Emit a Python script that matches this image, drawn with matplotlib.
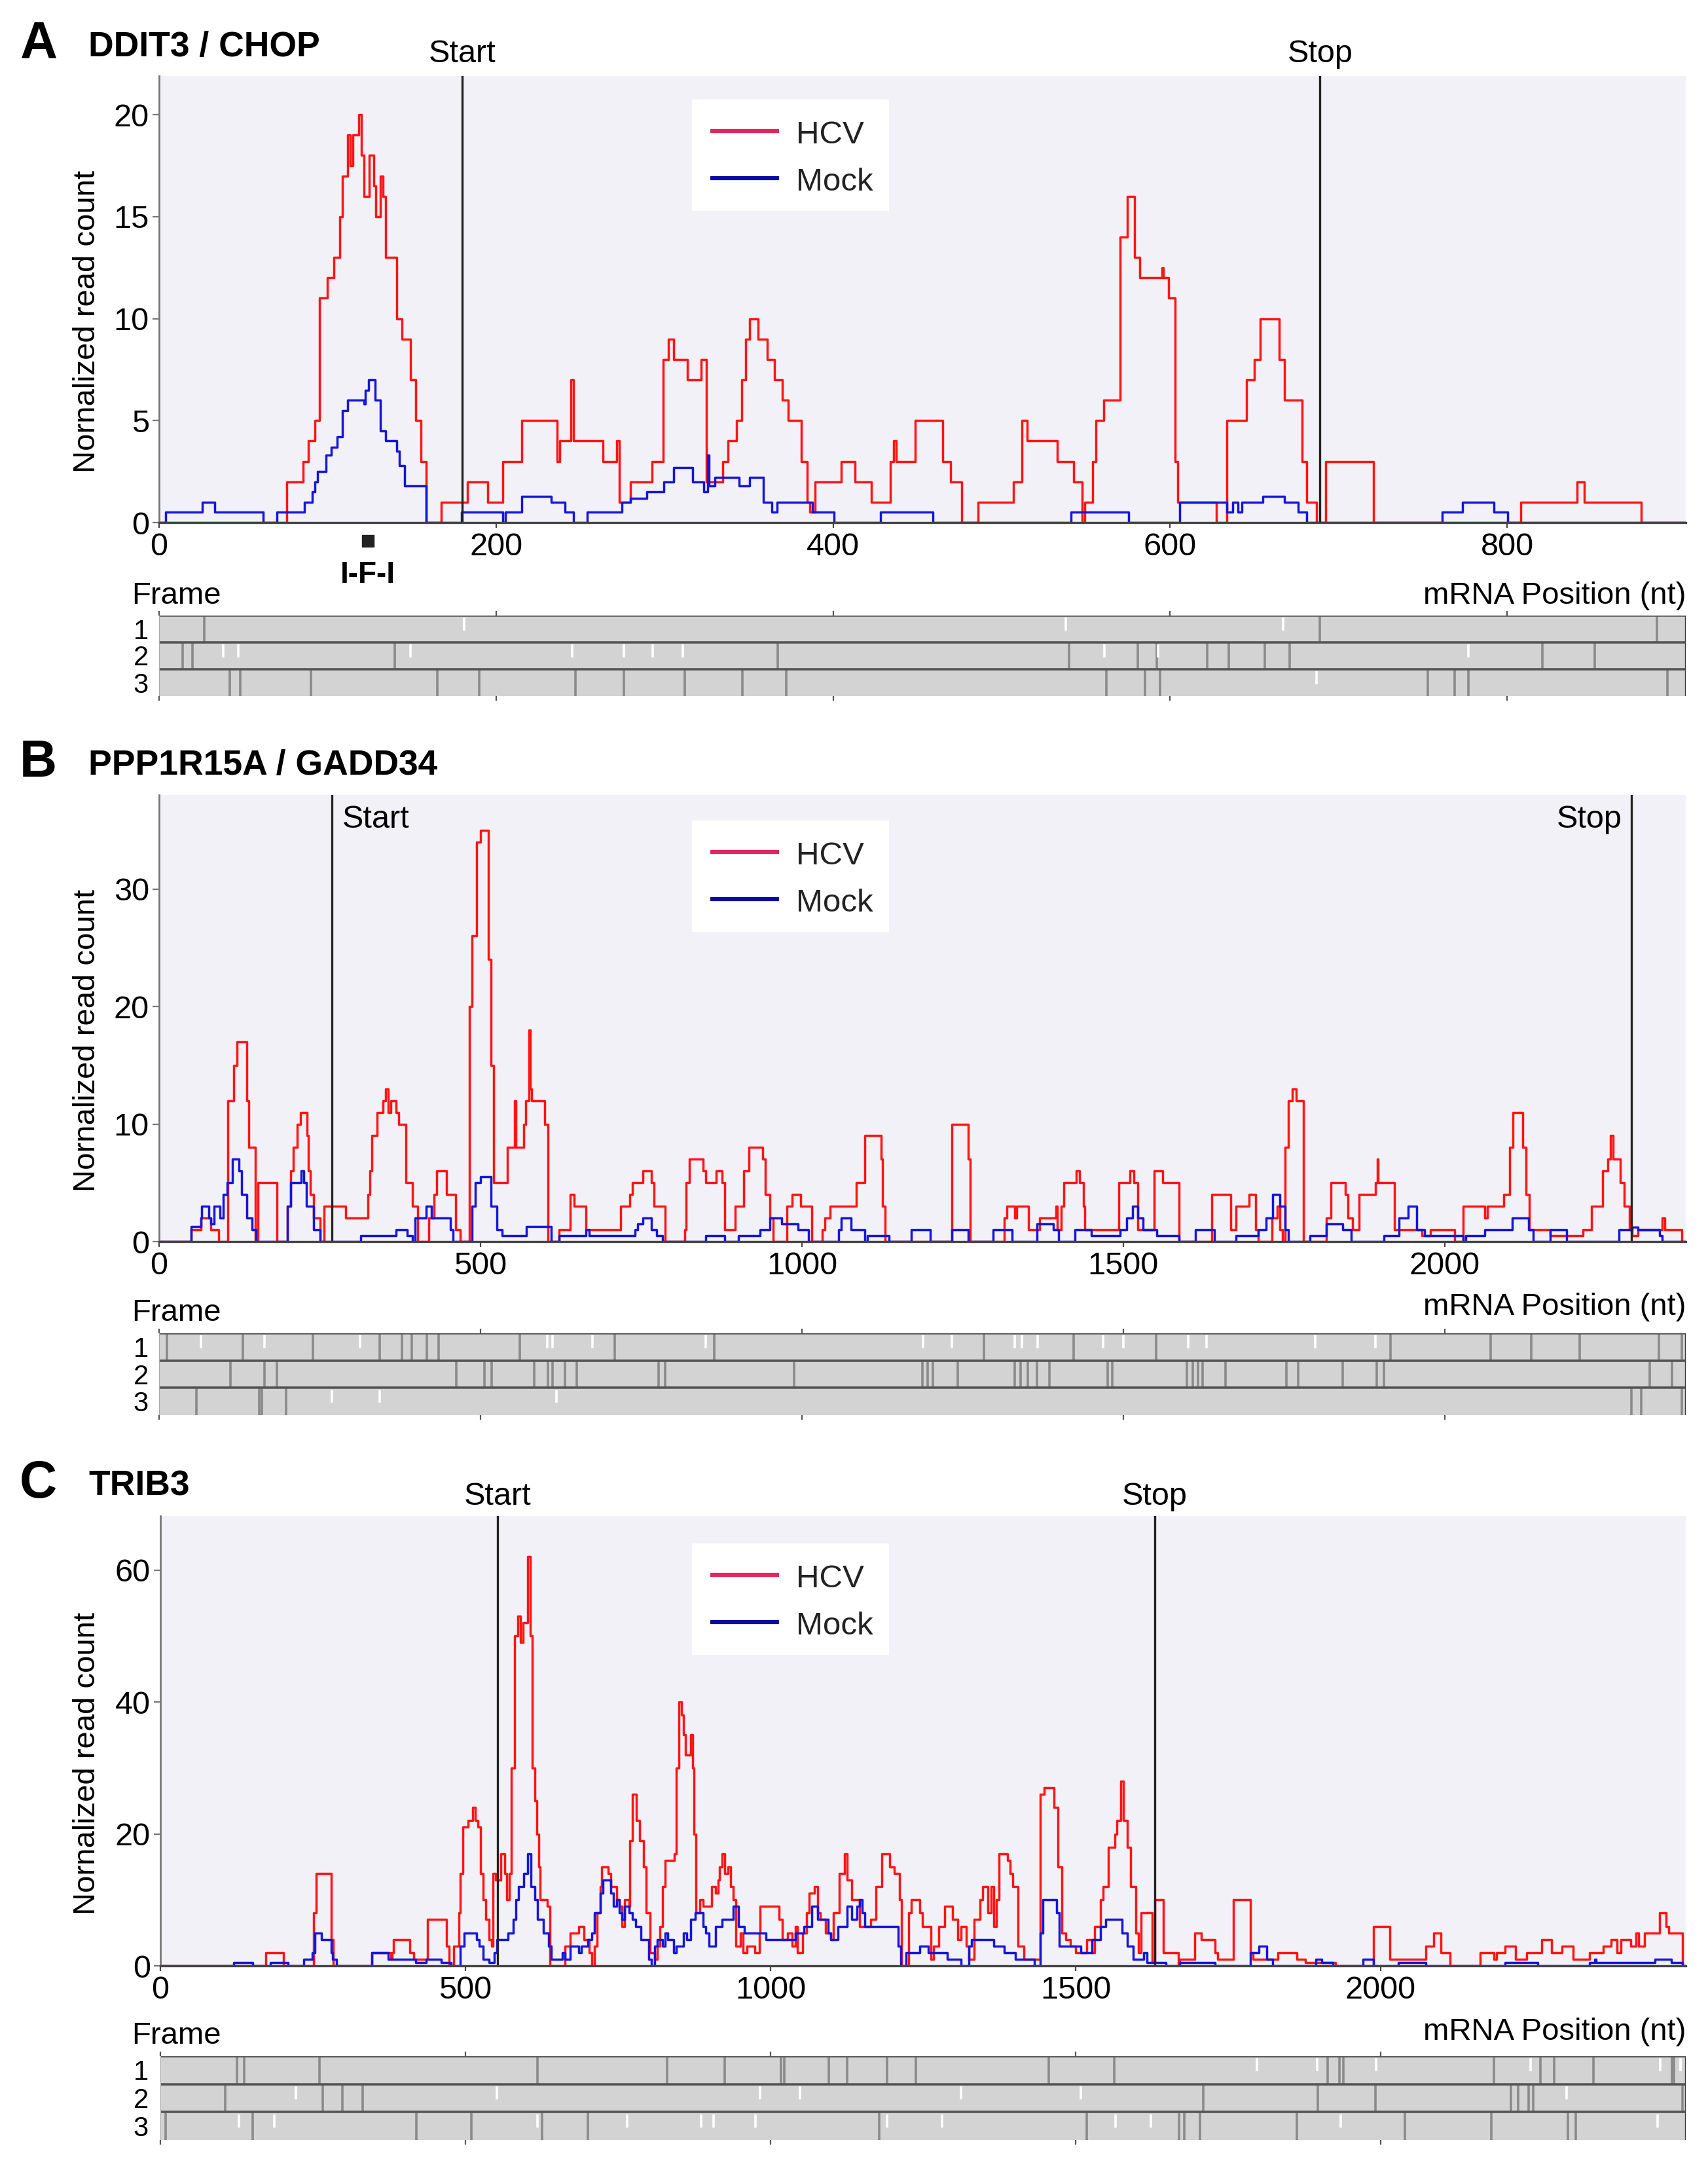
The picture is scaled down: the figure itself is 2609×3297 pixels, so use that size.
import matplotlib
matplotlib.use('Agg')
import matplotlib.pyplot as plt
import matplotlib.transforms as mtransforms
from matplotlib.patches import Rectangle
from matplotlib.lines import Line2D

plt.rcParams['font.family'] = ['Liberation Sans', 'DejaVu Sans']

# ---------------- DATA ----------------
# Panel A: DDIT3 / CHOP
A_HCV_X = [0, 75.8, 85.5, 88.7, 92.6, 95.1, 100, 103.9, 107.1, 108.7, 111.9, 113.5, 115.1, 118.4, 120, 121.6,
           124.8, 127.4, 128.7, 131.3, 132.9, 134.5, 140.9, 144.2, 149, 152.2, 155.5, 158.7, 167.4, 182.9, 195.1,
           203.9, 215.1, 236.1, 237.7, 244.2, 245.8, 263.5, 271.6, 273.2, 279.7, 292.6, 299, 302.3, 305.5, 313.5,
           321.6, 324.8, 334.5, 337.7, 342.6, 345.8, 348, 350.6, 355.5, 361, 365.2, 370, 373.2, 381.3, 384.5, 386.1,
           389.3, 405, 413, 422.7, 434, 436, 437.3, 448.6, 464.9, 469.8, 476.3, 486, 507.1, 512, 515.2, 533.1,
           542.8, 547.7, 549.3, 554.2, 556, 560.7, 570.5, 574.7, 578.9, 581.8, 595, 596, 599, 602.9, 604.6, 627.3,
           633.8, 645.2, 650, 653.3, 664.6, 667.9, 678.3, 680.9, 686.7, 692.3, 720.5, 808.2, 841.7, 845.9, 879.7]
A_HCV_Y = [0, 2, 3, 4, 5, 11, 12, 13, 15, 17, 19, 17.5, 19, 20, 18, 16,
           18, 16.5, 15, 17, 16, 13, 10, 9, 7, 5, 3, 0, 1, 2, 1,
           3, 5, 3, 4, 7, 4, 3, 4, 1, 2, 3, 8, 9, 8, 7,
           8, 2, 3, 4, 5, 7, 9, 10, 9, 8, 7, 6, 5, 3, 1, 0.5,
           2, 3, 2, 1, 3, 4, 3, 5, 3, 2, 0, 1, 2, 5, 4, 3,
           2, 0, 1, 3, 5, 6, 14, 16, 13, 12, 12.5, 12, 11, 3, 1, 0,
           5, 7, 8, 10, 8, 6, 3, 1, 0, 3, 0, 1, 2, 1, 0]
A_MOCK_X = [0, 3.8, 25.5, 32.9, 61.9, 70, 86.1, 91, 92.6, 94.2, 99, 102.2, 105.5, 108.7, 111.9, 121.6, 122.2,
            124.2, 128.1, 131.3, 134.5, 140.9, 142.6, 145.8, 158.7, 179.6, 203.9, 205.5, 215.1, 232.9, 240.9,
            245.8, 253.9, 274.8, 279.7, 289.4, 299.7, 305.5, 316.8, 323.2, 325.5, 326.5, 329.7, 344.2, 350.6,
            358.7, 363.5, 366.8, 387.7, 400.6, 428.2, 459.4, 541.2, 575.3, 605.5, 633.8, 637, 640.3, 642.6,
            654.9, 667.9, 676, 680.9, 761.4, 773.5, 792, 800.4]
A_MOCK_Y = [0, 0.5, 1, 0.5, 0, 0.5, 1, 1.5, 2, 2.5, 3.3, 3.7, 4.2, 5.5, 6, 5.8, 6.5,
            7, 6, 4.5, 4, 3.5, 2.8, 1.8, 0, 0.5, 0, 0.5, 1.3, 1, 0.5,
            0, 0.5, 1, 1.2, 1.5, 2, 2.7, 2, 1.5, 3.3, 1.8, 2.2, 1.8, 2.2,
            1, 0.5, 1, 0.5, 0, 0.5, 0, 0.5, 0, 1, 0.5, 1, 0.5, 1,
            1.3, 1, 0.5, 0, 0.5, 1, 0.5, 0]
A_START, A_STOP = 180, 689
A_XMAX, A_YMAX = 906, 21.9
A_XTICKS = [0, 200, 400, 600, 800]
A_YTICKS = [0, 5, 10, 15, 20]
A_F1_STOP = [27, 689, 889]
A_F1_ATG = [181, 538, 667]
A_F2_STOP = [14, 20, 140, 367, 540, 581, 592, 622, 635, 656, 671, 821, 852]
A_F2_ATG = [38, 47, 149, 245, 276, 293, 311, 561, 593, 777]
A_F3_STOP = [42, 48, 90, 165, 190, 247, 276, 312, 346, 372, 562, 585, 594, 753, 769, 777, 895]
A_F3_ATG = [687]
A_IFI_POS = 124

# Panel B: PPP1R15A / GADD34
B_HCV_X = [0, 49.7, 64.9, 80.1, 92.8, 107.1, 115.6, 121.5, 136.7, 139.2, 149.4, 153.6, 183.1, 200, 204.3, 208.5,
           215.2, 219.5, 230.4, 232.1, 235.5, 240.6, 250.7, 256.6, 290.4, 325, 327.5, 330.9, 339.4, 347.8, 352,
           356.2, 360.5, 368.9, 373.1, 384.1, 394.2, 402.7, 419.6, 428, 432.2, 446.6, 461.8, 468, 482.9, 487.1,
           493.9, 499.8, 512.5, 516.7, 520.9, 542, 553, 554.7, 567.4, 569.9, 575.8, 577, 580, 599.4, 605.3, 622.2,
           639.1, 645.9, 664.5, 717.6, 732, 736.2, 753.1, 765.8, 770, 786.9, 818.1, 820, 824.9, 846, 850.2, 867.1,
           875.5, 879.8, 896.7, 909.3, 917.8, 938.9, 943.1, 949.9, 955.8, 976.9, 985.3, 998, 1014.9, 1031.8, 1036,
           1044.4, 1085, 1097.6, 1123.2, 1125.7, 1129.1, 1233.7, 1259.2, 1261.7, 1314.4, 1318.7, 1331.4, 1334,
           1352.7, 1369.7, 1395.2, 1397.7, 1403.7, 1407, 1426.6, 1431.7, 1437.7, 1440.2, 1492.9, 1509.9, 1516.7,
           1522.7, 1548.2, 1560.9, 1586.4, 1637.4, 1667.2, 1675.7, 1695.2, 1705.4, 1709.7, 1730.9, 1739.4, 1743.7,
           1747.9, 1752.2, 1756.4, 1763.2, 1769.2, 1780.2, 1815.9, 1822.7, 1845.7, 1849.9, 1856.7, 1866.9, 1892.4,
           1895, 1896.7, 1922.2, 1964.7, 1977.4, 2015.7, 2028.4, 2062.4, 2066.7, 2092.2, 2100.7, 2106.6, 2121.9,
           2126.2, 2132.1, 2164.4, 2215.4, 2228.2, 2245.2, 2253.7, 2257.9, 2262.2, 2273.2, 2279.2, 2287.7, 2291.9,
           2300.4, 2338.7, 2342.9, 2368.4]
B_HCV_Y = [0, 1, 2, 1, 0, 12, 15, 17, 12, 8, 0, 5, 0, 3, 6, 8,
           10, 11, 9, 6, 4, 2, 0, 3, 2, 4, 6, 9, 11, 12, 13,
           11, 12, 11, 10, 5, 3, 0, 2, 4, 6, 4, 1, 0, 20, 26,
           34, 35, 24, 15, 5, 8, 12, 8, 10, 12, 18, 13, 12, 10, 0, 1,
           4, 3, 1, 3, 4, 5, 6, 5, 3, 0, 1, 5, 7, 6, 5, 6,
           5, 1, 3, 6, 8, 7, 4, 2, 0, 3, 4, 3, 0, 1, 2,
           3, 5, 9, 7, 3, 0, 10, 7, 0, 2, 3, 2, 3,
           1, 2, 3, 1, 3, 5, 6, 5, 3, 1, 5, 6, 5,
           1, 6, 5, 0, 4, 1, 3, 4, 1, 0, 2, 3, 1,
           0, 8, 12, 13, 12, 0, 2, 5, 4, 2, 1, 4, 5,
           7, 5, 1, 0.5, 1, 0, 3, 2, 3, 4, 8, 11, 8,
           4, 1, 0.5, 1, 3, 6, 7, 9, 7, 5, 3, 1, 0.5,
           1, 2, 1, 0]
B_MOCK_X = [0, 49.7, 64.9, 66.6, 77.6, 80.1, 86, 94.5, 100, 105.5, 113.9, 124, 128.3, 136.7, 145.1, 151, 200,
            204.3, 221.1, 225.4, 229.6, 240.6, 250.7, 314, 368.9, 385.8, 394.2, 398.5, 415.4, 423.8, 453.4, 457.6,
            487.1, 491.4, 499.8, 516.7, 525.1, 533.6, 571.6, 609.6, 622.2, 664.5, 668.7, 740.4, 744.7, 753.1,
            765.8, 774.2, 782.7, 850.2, 879.8, 900.9, 934.7, 950, 968.4, 993.8, 1010.7, 1057.1, 1061.3, 1076.4,
            1097.6, 1101.9, 1135.9, 1169.9, 1199.7, 1233.7, 1259.2, 1297.4, 1327.2, 1365.4, 1390.9, 1399.4, 1424.9,
            1450.4, 1494.6, 1505.7, 1514.2, 1522.7, 1531.2, 1552.4, 1586.4, 1611.9, 1641.7, 1675.7, 1709.7, 1722.4,
            1732.6, 1743.7, 1752.2, 1756.4, 1790.4, 1815.9, 1841.4, 1854.2, 1905.2, 1929, 1943.4, 1956.2, 1968.9,
            2028.4, 2032.7, 2062.4, 2104.9, 2130.4, 2137.2, 2164.4, 2189.9, 2270.7, 2291.9, 2300.4, 2334.4, 2338.7]
B_MOCK_Y = [0, 1.3, 2, 3, 2, 1.5, 3, 2, 4, 5, 7, 6, 4, 2, 1, 0, 3,
            5, 6, 5, 3, 1, 0, 0.5, 1, 0.5, 0, 2, 3, 2, 1, 0,
            3, 5, 5.5, 3, 1, 0.5, 1.3, 0, 0.5, 1, 0.5, 1, 1.5, 2,
            1, 0.5, 0, 0.5, 0, 0.5, 1, 2, 1.5, 1, 0, 1, 2, 1,
            0, 0.5, 0, 1, 0, 1, 0, 1, 0, 1.5, 1, 0, 1,
            0.5, 1, 2, 3, 2, 1, 0.5, 0, 1, 0, 0.5, 1, 2,
            4, 3, 1, 0, 0.5, 1.5, 1, 0, 0.5, 2, 3, 1, 0.5,
            0, 0.5, 1, 2, 1, 0, 1, 0, 1, 1.2, 1, 0.5, 0]
B_START, B_STOP = 269, 2290
B_XMAX, B_YMAX = 2375, 38.0
B_XTICKS = [0, 500, 1000, 1500, 2000]
B_YTICKS = [0, 10, 20, 30]
B_F1_STOP = [12, 130, 239, 343, 378, 393, 417, 435, 561, 709, 864, 1283, 1423, 1551, 1916, 2071, 2135, 2210, 2333, 2369]
B_F1_ATG = [65, 164, 313, 604, 612, 674, 850, 1189, 1233, 1331, 1342, 1367, 1469, 1500, 1601, 1629, 1799, 1892]
B_F2_STOP = [111, 164, 183, 462, 506, 517, 584, 605, 612, 631, 650, 777, 787, 988, 1187, 1196, 1204, 1243, 1331,
             1340, 1351, 1366, 1385, 1476, 1483, 1599, 1608, 1616, 1623, 1659, 1754, 1772, 1841, 1894, 1905, 2319, 2354]
B_F2_ATG = []
B_F3_STOP = [58, 156, 160, 198, 2290, 2306, 2369]
B_F3_ATG = [269, 343, 618]

# Panel C: TRIB3
C_HCV_X = [0, 173.2, 201.7, 251.5, 255.1, 280, 283, 346.8, 377.9, 379.7, 382.4, 409.1, 415, 437.6, 468.7, 473,
           480.3, 489.2, 491.9, 495.5, 504.4, 511.5, 515.9, 520.4, 524.8, 529.3, 533.7, 538.2, 542.6, 545.3, 549.8,
           557.8, 564.9, 567.6, 572, 575.6, 580.9, 586, 590, 594, 602, 606, 609, 613.8, 616.5, 620.1, 622.7, 634.3,
           638.8, 662.8, 671.7, 685.1, 694, 702.9, 707.3, 711.8, 716.2, 720.7, 723.3, 734, 738.5, 747.4, 751.8,
           756.3, 760.7, 767.9, 769.6, 774.1, 780.3, 785.6, 791.9, 796.3, 802.6, 809.7, 814.1, 818.6, 823, 827.5,
           842.6, 845.3, 849.8, 854.2, 856.9, 860.4, 869.4, 872, 874.7, 878.2, 883.6, 889.8, 903.2, 910.3, 913.8,
           916.5, 920.9, 925.4, 929.9, 934.3, 938.8, 943.2, 950.3, 954.8, 961, 974.4, 981.5, 983.3, 1014.4, 1018.9,
           1027.8, 1034.9, 1041.1, 1043.8, 1052.7, 1059, 1063.4, 1072.3, 1076.8, 1081.2, 1090.1, 1099, 1103.5,
           1112.4, 1121.3, 1125.7, 1132.8, 1146, 1164, 1173, 1181.9, 1195.3, 1202.5, 1211.5, 1215, 1226.7, 1231.2,
           1244.6, 1249.1, 1262.5, 1267, 1276, 1285, 1298.4, 1307.3, 1311.8, 1320.8, 1325.3, 1334.2, 1343.2,
           1347.7, 1356.6, 1361.1, 1365.6, 1370.1, 1374.5, 1388, 1392.5, 1396.9, 1405.9, 1414.9, 1441.8, 1448,
           1464.2, 1471.3, 1477.6, 1483.9, 1491, 1500, 1517.9, 1526.9, 1531.4, 1540.3, 1544.8, 1553.8, 1564.5,
           1567.2, 1573.5, 1578, 1585.1, 1589.6, 1598.6, 1603, 1607.5, 1625.5, 1630, 1643.4, 1668.5, 1670.3,
           1695.4, 1706.1, 1728.5, 1733, 1758.1, 1786.8, 1791.2, 1831.6, 1862.9, 1876.4, 1925.7, 1988.4, 2015.3,
           2073.5, 2087, 2098.6, 2113.8, 2163.1, 2185.5, 2190, 2203.4, 2221.4, 2239.3, 2263.5, 2279.6, 2297.5,
           2315.5, 2342.3, 2364.7, 2378.2, 2387.1, 2394.3, 2409.5, 2418.5, 2423, 2431.9, 2457, 2467.8, 2472.3, 2494.7]
C_HCV_Y = [0, 2, 0, 8, 14, 4, 0, 2, 1, 2, 4, 2, 1, 7, 3, 0,
           3, 8, 14, 21, 22, 24, 22, 21, 14, 10, 7, 4, 3, 14, 13,
           17, 14, 10, 14, 30, 50, 53, 49, 52, 62, 50, 30, 25, 20, 15, 10, 9,
           0, 3, 5, 6, 4, 2, 0, 3, 8, 12, 15, 14, 12, 10, 9,
           6, 10, 9, 19, 26, 22, 19, 15, 8, 2, 1, 3, 6, 12, 16,
           17, 30, 40, 38, 35, 32, 35, 30, 20, 8, 10, 9, 12, 11, 13,
           15, 17, 14, 15, 12, 10, 3, 5, 2, 3, 2, 5, 9, 7, 4,
           5, 3, 6, 2, 5, 8, 11, 12, 8, 7, 5, 4, 8,
           14, 17, 13, 10, 6, 7, 12, 17, 15, 14, 10, 0, 8, 10,
           8, 6, 1, 3, 6, 9, 7, 4, 6, 3, 1, 7, 10,
           12, 8, 12, 6, 10, 17, 16, 14, 12, 3, 1, 26, 27,
           24, 15, 5, 4, 3, 2, 4, 2, 6, 10, 12, 18, 20,
           22, 28, 22, 18, 12, 5, 2, 8, 0.5, 10, 2, 0, 1,
           5, 4, 2, 1, 10, 2, 1, 2, 1, 0.5, 0, 6, 1,
           3, 5, 2, 0, 2, 1, 2, 3, 1, 2, 4, 2, 3,
           1, 2, 3, 4, 2, 4, 3, 5, 3, 5, 8, 6, 5, 0]
C_MOCK_X = [0, 119.8, 150.9, 180.3, 208.8, 235.5, 248.9, 253.3, 264, 280, 282.7, 288.9, 346.8, 373.5, 418, 435.8,
            459.8, 475.9, 491.9, 498.1, 518.6, 522.2, 529.3, 538.2, 547.1, 551.5, 569.3, 578.2, 582.7, 587.1, 596,
            602.3, 607.6, 613.8, 618.3, 627.2, 636.1, 640.6, 658.4, 662.8, 671.7, 685.1, 689.5, 701.1, 707.3, 711.8,
            720.7, 725.1, 738.5, 743, 747.4, 751.8, 756.3, 760.7, 767.9, 774.1, 778.5, 787.4, 800.8, 805.2, 809.7,
            814.1, 823, 827.5, 832, 840.8, 845.3, 856.9, 863.1, 869.4, 876.5, 889.8, 894.3, 898.7, 910.3, 920.9,
            938.8, 947.7, 956.6, 992.2, 1041.1, 1054.5, 1067.8, 1076.8, 1094.6, 1099, 1110, 1125.7, 1132.8, 1141.6,
            1146, 1150.5, 1155, 1208.8, 1213.2, 1222.2, 1244.6, 1258.1, 1289.4, 1311.8, 1325.3, 1329.7, 1365.6,
            1383.5, 1401.4, 1432.8, 1441.8, 1446.2, 1468.6, 1473.1, 1509, 1526.9, 1540.3, 1549.3, 1576.2, 1585.1,
            1594.1, 1612, 1616.5, 1647.9, 1670.3, 1728.5, 1786.8, 1800.2, 1813.6, 1822.6, 1894.3, 1903.3, 1921.2,
            1970.5, 1988.4, 2028.7, 2073.5, 2203.4, 2257.2, 2342.3, 2351.3, 2353.1, 2449.9, 2476.8, 2494.7]
C_MOCK_Y = [0, 0.5, 0, 0.5, 0, 1, 2, 5, 4, 2, 1, 0, 2, 1, 0.5, 1,
            0.5, 0, 3, 5, 4, 3, 1, 0.5, 2, 4, 5, 7, 10, 12, 14,
            17, 12, 10, 7, 5, 3, 1, 2, 1, 3, 2, 3, 4, 5, 8,
            11, 13, 11, 9, 10, 8, 7, 9, 8, 7, 6, 4, 1, 0, 3,
            4, 3, 5, 4, 2, 3, 5, 4, 7, 8, 6, 5, 3, 6, 7,
            9, 6, 5, 4, 5, 6, 9, 7, 5, 4, 6, 9, 7, 9,
            10, 8, 6, 3, 0, 2, 3, 2, 1, 0, 3, 4, 3,
            2, 1, 0, 5, 10, 8, 3, 2, 4, 6, 7, 5, 3,
            1, 2, 0.5, 0, 0.5, 0, 2, 3, 1, 0, 1, 0.5, 0,
            1, 0, 0.5, 0, 0.5, 0, 0.5, 1, 0.5, 1, 0.5, 0]
C_START, C_STOP = 553, 1630
C_XMAX, C_YMAX = 2500, 68.2
C_XTICKS = [0, 500, 1000, 1500, 2000]
C_YTICKS = [0, 20, 40, 60]
C_F1_STOP = [126, 137, 261, 618, 830, 925, 1017, 1023, 1096, 1126, 1191, 1238, 1456, 1563, 1913, 1932, 1939,
             2186, 2262, 2284, 2349, 2477, 2481]
C_F1_ATG = [1797, 1896, 1992, 2246, 2458, 2491]
C_F2_STOP = [106, 266, 298, 332, 1709, 1897, 1991, 2213, 2225, 2243, 2250, 2495]
C_F2_ATG = [222, 552, 983, 1048, 1312, 1509, 2305]
C_F3_STOP = [9, 151, 420, 510, 626, 701, 1178, 1518, 1670, 1678, 1704, 1863, 2040, 2181, 2307, 2320]
C_F3_ATG = [129, 187, 618, 765, 886, 907, 975, 1191, 1281, 1565, 1623, 1935, 2454]

SERIES_NAMES = ['HCV', 'Mock']
FRAME_LABELS = ['1', '2', '3']

# ---------------- STYLE ----------------
W, H = 2609, 3297
RED = '#FF1414'
BLUE = '#1616D8'
LEG_RED = '#E2275E'
LEG_BLUE = '#0A0AA0'
BG = '#F2F1F7'
FS = 34
TICK_FS = 35
LEG_FS = 35.5

fig = plt.figure(figsize=(W / 100, H / 100), dpi=100)
fig.patch.set_facecolor('white')


def fx(px):
    return px / W


def fy(py):
    return 1 - py / H


def axes_px(left, top, right, bottom):
    return fig.add_axes([fx(left), fy(bottom), (right - left) / W, (bottom - top) / H])


def draw_panel(letter, title, box, track_box, title_base, hcv, mock, xmax, ymax, xticks, yticks,
               start, stop, frames, legend_top, ylab_y, frame_base, mrna_base, label_mode):
    left, top, right, bottom = box
    ax = axes_px(left, top, right, bottom)
    ax.set_facecolor(BG)
    hx, hy = list(hcv[0]) + [xmax], list(hcv[1]) + [hcv[1][-1]]
    mx, my = list(mock[0]) + [xmax], list(mock[1]) + [mock[1][-1]]
    ax.step(hx, hy, where='post', color=RED, lw=2.5, zorder=2)
    ax.step(mx, my, where='post', color=BLUE, lw=2.5, zorder=3)
    ax.axvline(start, color='#222222', lw=2.4, zorder=4)
    ax.axvline(stop, color='#222222', lw=2.4, zorder=4)
    ax.set_xlim(0, xmax)
    ax.set_ylim(0, ymax)
    ax.set_xticks(xticks)
    ax.set_yticks(yticks)
    ax.set_xticklabels([str(t) for t in xticks])
    ax.set_yticklabels([str(t) for t in yticks])
    ax.tick_params(axis='x', direction='out', length=6, width=1.6, color='#444444', labelsize=TICK_FS, pad=5)
    ax.tick_params(axis='y', direction='out', length=7, width=1.6, color='#777777', labelsize=TICK_FS, pad=4)
    for s in ['top', 'right']:
        ax.spines[s].set_visible(False)
    ax.spines['left'].set_color('#777777')
    ax.spines['left'].set_linewidth(2.0)
    ax.spines['bottom'].set_color('#444444')
    ax.spines['bottom'].set_linewidth(2.4)
    ax.spines['left'].set_zorder(5)
    ax.spines['bottom'].set_zorder(5)

    trans = mtransforms.blended_transform_factory(ax.transData, ax.transAxes)
    hgt = bottom - top
    if label_mode == 'above':
        yb = 1 + (top - title_base[1]) / hgt
        ax.text(start, yb, 'Start', transform=trans, ha='center', va='baseline', fontsize=35)
        ax.text(stop, yb, 'Stop', transform=trans, ha='center', va='baseline', fontsize=35)
    else:
        yb = 1 - (title_base[1] - top) / hgt
        ax.annotate('Start', xy=(start, yb), xycoords=trans, xytext=(11, 0), textcoords='offset points',
                    ha='left', va='baseline', fontsize=35)
        ax.annotate('Stop', xy=(stop, yb), xycoords=trans, xytext=(-10, 0), textcoords='offset points',
                    ha='right', va='baseline', fontsize=35)

    # titles
    fig.text(fx(30), fy(title_base[0] + 3), letter, fontsize=57, fontweight='bold', ha='left', va='baseline')
    fig.text(fx(135), fy(title_base[0]), title, fontsize=38.5, fontweight='bold', ha='left', va='baseline')

    # y label
    fig.text(fx(133), fy(ylab_y), 'Nornalized read count', rotation=90, ha='center', va='center', fontsize=FS)

    # legend (manual)
    fig.add_artist(Rectangle((fx(1057), fy(legend_top + 170)), (1358 - 1057) / W, 170 / H,
                             transform=fig.transFigure, facecolor='white', edgecolor='none', zorder=6))
    for k, (nm, col) in enumerate(zip(SERIES_NAMES, [LEG_RED, LEG_BLUE])):
        yy = legend_top + 48 + 72 * k
        fig.add_artist(Line2D([fx(1085), fx(1190)], [fy(yy), fy(yy)], transform=fig.transFigure,
                              color=col, lw=4.5, solid_capstyle='butt', zorder=7))
        fig.text(fx(1216), fy(yy + 19), nm, fontsize=LEG_FS, ha='left', va='baseline', zorder=8, color='#222222')

    # x label and Frame label
    fig.text(fx(2575), fy(mrna_base), 'mRNA Position (nt)', ha='right', va='baseline', fontsize=FS)
    fig.text(fx(201), fy(frame_base), 'Frame', ha='left', va='baseline', fontsize=FS)

    # frame tracks
    tl, tt, tr, tb = track_box
    tax = axes_px(tl, tt, tr, tb)
    tax.set_xlim(0, xmax)
    tax.set_ylim(0, 3)
    tax.patch.set_alpha(0)
    for s in tax.spines.values():
        s.set_visible(False)
    tax.set_yticks([])
    tax.set_xticks(xticks)
    tax.tick_params(axis='x', direction='out', length=5, width=1.6, color='#555555', top=True, bottom=True,
                    labelbottom=False, labeltop=False)
    for i, (stops, atgs) in enumerate(frames):
        y0 = 2 - i
        tax.add_patch(Rectangle((0, y0), xmax, 1, facecolor='#D3D3D3', edgecolor='none', zorder=1))
        tax.vlines(stops, y0, y0 + 1, color='#8A8A8A', lw=2.6, zorder=2)
        if atgs:
            tax.vlines(atgs, y0 + 0.45, y0 + 0.92, color='white', lw=2.6, zorder=3)
        tax.hlines(y0 + 1, 0, xmax, color='#555555', lw=2.6, zorder=4)
        cy = tt + (tb - tt) * (i + 0.5) / 3 + 4
        fig.text(fx(227), fy(cy), FRAME_LABELS[i], ha='right', va='center', fontsize=30)
    tax.vlines([xmax], 0, 3, color='#333333', lw=2.4, zorder=5)
    tax.vlines([0], 0, 3, color='#AAAAAA', lw=1.5, zorder=5)
    return ax


# Panel A
axA = draw_panel('A', 'DDIT3 / CHOP', (243, 116, 2575, 798), (243, 940, 2575, 1063), (86, 95),
                 (A_HCV_X, A_HCV_Y), (A_MOCK_X, A_MOCK_Y), A_XMAX, A_YMAX, A_XTICKS, A_YTICKS,
                 A_START, A_STOP,
                 [(A_F1_STOP, A_F1_ATG), (A_F2_STOP, A_F2_ATG), (A_F3_STOP, A_F3_ATG)],
                 152, 491, 922, 922, 'above')
# I-F-I annotation
tA = mtransforms.blended_transform_factory(axA.transData, axA.transAxes)
axA.plot([A_IFI_POS], [-0.041], marker='s', ms=13, color='#222222', transform=tA, clip_on=False)
axA.text(A_IFI_POS, -0.135, 'I-F-I', transform=tA, ha='center', va='baseline', fontsize=33, fontweight='bold')

# Panel B
draw_panel('B', 'PPP1R15A / GADD34', (243, 1214, 2575, 1896), (243, 2036, 2575, 2161), (1183, 1264),
           (B_HCV_X, B_HCV_Y), (B_MOCK_X, B_MOCK_Y), B_XMAX, B_YMAX, B_XTICKS, B_YTICKS,
           B_START, B_STOP,
           [(B_F1_STOP, B_F1_ATG), (B_F2_STOP, B_F2_ATG), (B_F3_STOP, B_F3_ATG)],
           1253, 1589, 2017, 2008, 'inside')

# Panel C
draw_panel('C', 'TRIB3', (245, 2315, 2575, 3002), (245, 3140, 2575, 3268), (2284, 2298),
           (C_HCV_X, C_HCV_Y), (C_MOCK_X, C_MOCK_Y), C_XMAX, C_YMAX, C_XTICKS, C_YTICKS,
           C_START, C_STOP,
           [(C_F1_STOP, C_F1_ATG), (C_F2_STOP, C_F2_ATG), (C_F3_STOP, C_F3_ATG)],
           2357, 2693, 3121, 3115, 'above')

fig.savefig('out.png', dpi=100)
